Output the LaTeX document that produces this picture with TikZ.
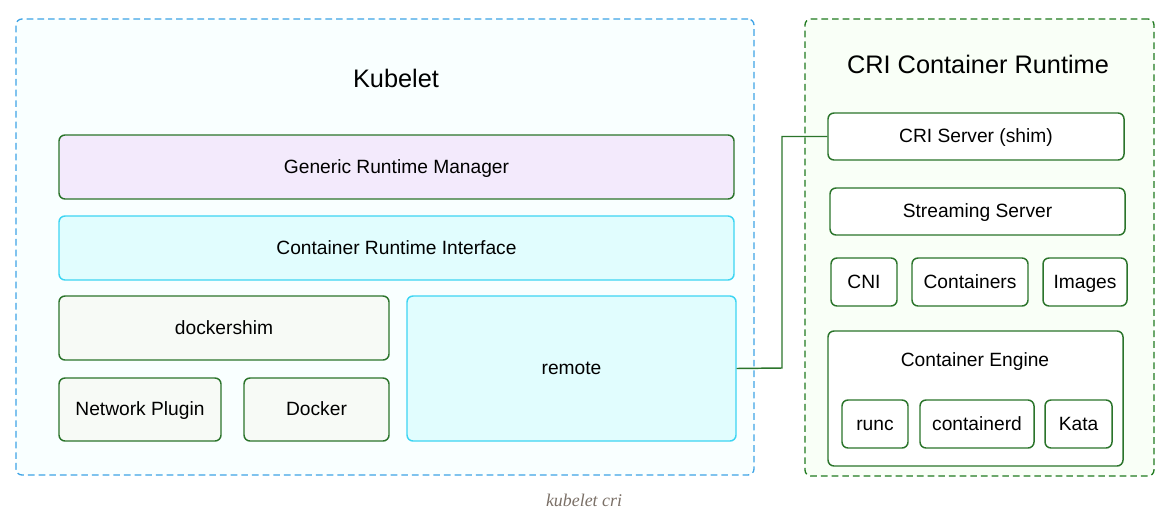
\documentclass[tikz,border=0pt]{standalone}
\usepackage{fontspec}
\setmainfont{Liberation Sans}
\newfontfamily\captionfont{Liberation Serif}
\usetikzlibrary{positioning}

\definecolor{kubeline}{HTML}{3EA3E6}
\definecolor{kubefill}{HTML}{F9FFFF}
\definecolor{criline}{HTML}{1F7A1F}
\definecolor{crifill}{HTML}{F9FFF7}
\definecolor{boxline}{HTML}{2B742B}
\definecolor{genfill}{HTML}{F3EAFC}
\definecolor{ifline}{HTML}{3DD5F3}
\definecolor{iffill}{HTML}{E1FDFE}
\definecolor{shimfill}{HTML}{F7FAF6}
\definecolor{capgray}{HTML}{7A6F66}

\tikzset{
  outer/.style={draw, dashed, dash pattern=on 5pt off 3pt, line width=1pt,
    rounded corners=4.5pt, inner sep=0pt},
  box/.style={draw=boxline, line width=1.1pt, rounded corners=4.5pt,
    inner sep=0pt, text height=0.96em, text depth=0.02em,
    font=\fontsize{14.4}{16}\selectfont},
  cbox/.style={box, draw=ifline, fill=iffill},
  title/.style={font=\fontsize{19}{22}\selectfont},
  link/.style={draw=boxline, line width=1.1pt}
}

\begin{document}
\begin{tikzpicture}[x=0.75pt, y=-0.75pt]
    \useasboundingbox (0,0) rectangle (1166,517);

    % Outer frames
    \node[outer, draw=kubeline, fill=kubefill, minimum width=553.5pt, minimum height=342pt]
      (kubelet) at (385,247) {};
    \node[outer, draw=criline, fill=crifill, minimum width=261.75pt, minimum height=342.75pt]
      (runtime) at (979.5,247.5) {};
    \node[title] (kubetitle) at (396,78) {Kubelet};
    \node[title] (crititle) at (978,64) {CRI Container Runtime};

    % Kubelet side
    \node[box, fill=genfill, minimum width=506.25pt, minimum height=48pt]
      (generic) at (396.5,167) {Generic Runtime Manager};
    \node[cbox, minimum width=506.25pt, minimum height=48pt]
      (criapi) at (396.5,248) {Container Runtime Interface};
    \node[box, fill=shimfill, minimum width=247.5pt, minimum height=48pt]
      (dockershim) at (224,328) {dockershim};
    \node[box, fill=shimfill, minimum width=121.5pt, minimum height=47.25pt]
      (netplugin) at (140,409.5) {Network Plugin};
    \node[box, fill=shimfill, minimum width=108.75pt, minimum height=47.25pt]
      (docker) at (316.5,409.5) {Docker};
    \node[cbox, minimum width=246.75pt, minimum height=108.75pt]
      (remote) at (571.5,368.5) {remote};

    % Runtime side
    \node[box, fill=white, minimum width=222pt, minimum height=35.25pt]
      (crishim) at (976,136.5) {CRI Server (shim)};
    \node[box, fill=white, minimum width=221.25pt, minimum height=35.25pt]
      (streaming) at (977.5,211.5) {Streaming Server};
    \foreach \name/\x/\w/\txt in {cni/864/49.5/CNI, containers/970/87/Containers, images/1085/63/Images} {
      \node[box, fill=white, minimum width=\w pt, minimum height=36pt] (\name) at (\x,282) {\txt};
    }
    \node[box, fill=white, minimum width=221.25pt, minimum height=101.25pt]
      (engine) at (975.5,398.5) {};
    \node[font=\fontsize{14.4}{16}\selectfont] (enginetitle) at (975,361.5) {Container Engine};
    \foreach \name/\x/\w/\txt in {runc/875/49.5/runc, containerd/977/85.5/containerd, kata/1078.5/50.25/Kata} {
      \node[box, fill=white, minimum width=\w pt, minimum height=36pt] (\name) at (\x,424) {\txt};
    }

    % remote -> shim
    \coordinate (bend) at (782,368);
    \draw[link] (remote.east) -- (bend) |- (crishim.west);

    % Caption
    \node[font=\captionfont\itshape\fontsize{13.4}{15}\selectfont, text=capgray]
      (caption) at (584,500) {kubelet cri};
\end{tikzpicture}
\end{document}
